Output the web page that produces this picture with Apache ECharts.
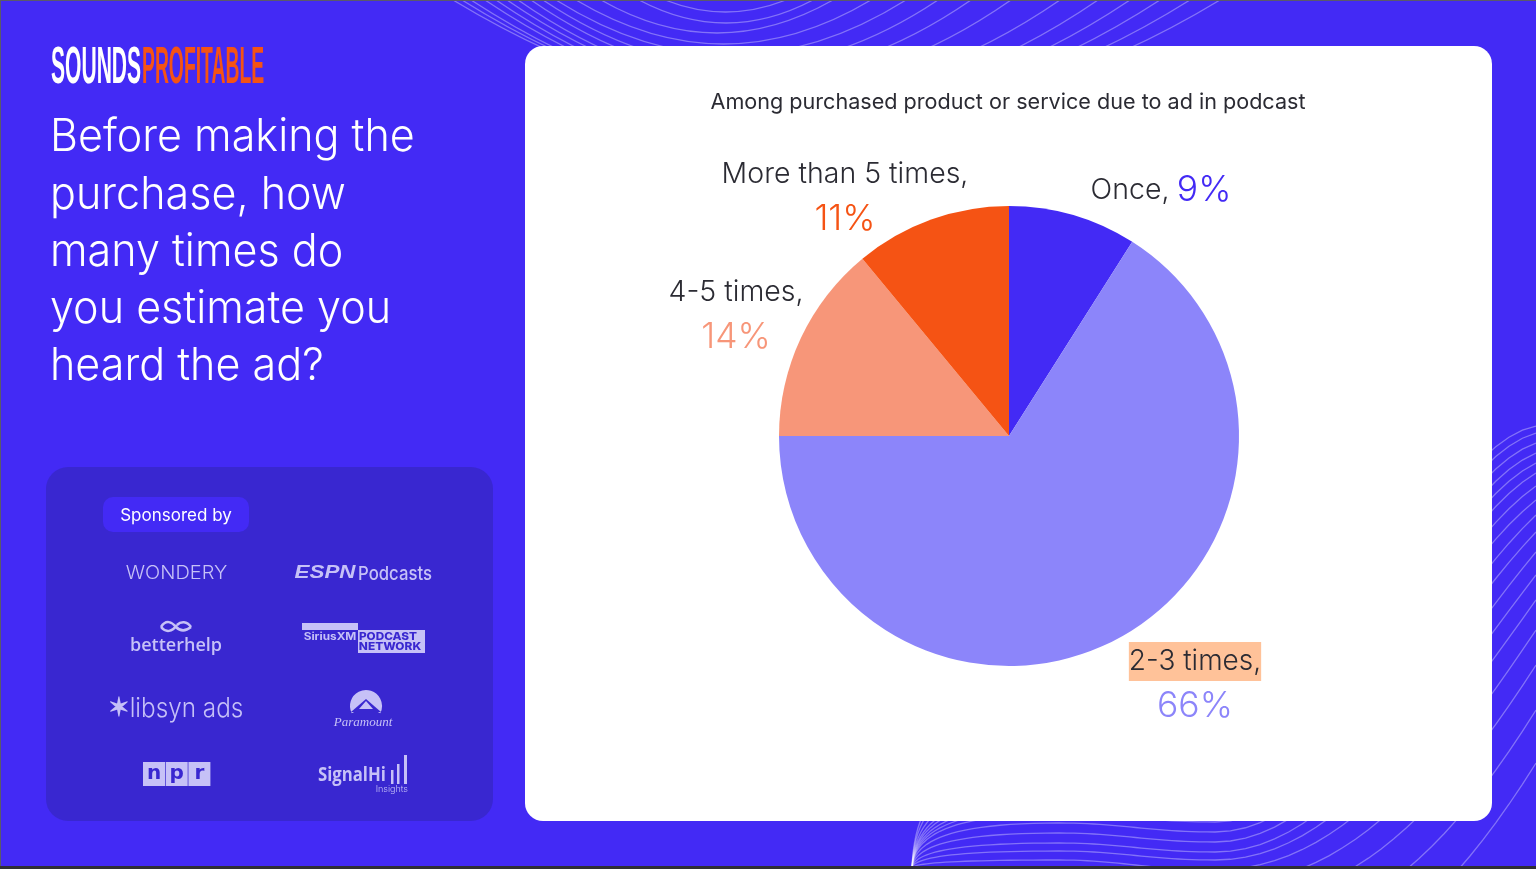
<!DOCTYPE html>
<html><head><meta charset="utf-8">
<style>html,body{margin:0;padding:0;background:#432AF5;overflow:hidden}#c{width:1536px;height:869px}</style>
<script src="https://cdn.jsdelivr.net/npm/echarts@6/dist/echarts.min.js"></script>
</head><body><div id="c"></div>
<script>
const categories = ['Once','2-3 times','4-5 times','More than 5 times'];
const values = [9,66,14,11];
const sliceColors = ['#432AF5','#8C85FA','#F79679','#F55314'];
const chartTitle = 'Among purchased product or service due to ad in podcast';
const headline = ['Before making the','purchase, how','many times do','you estimate you','heard the ad?'];

const FONT = 'Inter, "Noto Sans", sans-serif';
const LOGO = '#C6C1F7';
const BG = '#432AF5', PANEL = '#3927D0';
const chart = echarts.init(document.getElementById('c'), null, {renderer:'canvas'});

const g = [];
const deco = 'rgba(255,255,255,0.34)';
function curve(x1,y1,a,b,c,d,x2,y2,color,lw){
  const shape={x1,y1,x2,y2,cpx1:a,cpy1:b};
  if(c!==null){shape.cpx2=c;shape.cpy2=d;}
  g.push({type:'bezierCurve',silent:true,shape,style:{fill:null,stroke:color||deco,lineWidth:lw||1.3}});
}
// sampled decorative wave, drawn as one polyline
function wave(segs){
  const pts=[];
  segs.forEach(s=>{ for(let k=0;k<=24;k++){ const t=k/24,u=1-t;
    pts.push([u*u*u*s[0]+3*u*u*t*s[2]+3*u*t*t*s[4]+t*t*t*s[6], u*u*u*s[1]+3*u*u*t*s[3]+3*u*t*t*s[5]+t*t*t*s[7]]); } });
  g.push({type:'polyline',silent:true,shape:{points:pts},style:{fill:null,stroke:deco,lineWidth:1.3}});
}
// top decoration
[[665,786,12],[639,813,23],[601,833,33],[576,871,44],[556,906,55],[543,938,66],[531,971,76],[518,1011,86],[507,1060,95],[496,1098,103],[485,1130,108],[471,1160,112],[462,1190,114],[453,1220,116]]
 .forEach(c=>curve(c[0],0,(c[0]+c[1])/2,2*c[2],null,null,c[1],0));
// right + bottom decoration
const ye=[426,433,443,453,463,473,486,500,515,532,552,575,600,630,665,710,763];
const sl=[.2,.28,.35,.42,.5,.6,.7,.8,.95,1.05,1.2,1.3,1.4,1.5,1.55,1.6,1.6];
const yd=[760,775,790,800,806,812,817,822,832,842,852,860,870,885,905,935,980];
ye.forEach((e,i)=>{
  const d=yd[i], p=d-(i<8?8:i<12?9:10), b=110;
  wave([[912,868,914,868-(868-p)*.6,950,p,1059,p],[1059,p,1120,p,1150,d,1215,d],[1215,d,1340,d,1536-b,e+b*sl[i],1536,e]]);
});
function rr(x,y,w,h,r,fill){ g.push({type:'rect',silent:true,shape:{x,y,width:w,height:h,r},style:{fill}}); }
function tx(x,y,text,size,fill,o){ o=o||{};
  g.push({type:'text',silent:true,x,y,scaleX:o.sx||1,scaleY:o.sy||1,style:{text,fill,fontSize:size,fontFamily:o.ff||FONT,fontWeight:o.w||400,fontStyle:o.st||'normal',
    align:o.a||'center',verticalAlign:o.v||'middle'}});
}
// card, panel
rr(525,46,967,775,18,'#fff');
rr(46,467,447,354,22,PANEL);
rr(103,497,146,35,10,BG);
// frame
rr(0,0,1536,1,0,'#5a5a6a'); rr(0,0,1,869,0,'#5a5a6a'); rr(0,866,1536,3,0,'#2f2f36');
// logo
tx(51,69,'SOUNDS',52,'#fff',{a:'left',sx:.405,w:700,ff:'"Liberation Sans"'});
tx(142,69,'PROFITABLE',52,'#F55314',{a:'left',sx:.372,w:700,ff:'"Liberation Sans"'});
// headline
headline.forEach((t,i)=>tx(50,138+i*57.2,t,44.5,'#fff',{a:'left',w:300,sx:.968}));
tx(176,515.5,'Sponsored by',17,'#fff',{w:400});
// sponsor logos
tx(176.5,574,'WONDERY',18,LOGO,{sx:1.11,w:300});
tx(325,573,'ESPN',19,LOGO,{w:900,st:'italic',sx:1.18,ff:'"Liberation Sans"'});
tx(395,574,'Podcasts',19,LOGO,{w:500,sx:.88});
tx(176,646,'betterhelp',18,LOGO,{w:600,ff:'"Open Sans"'});
curve(161,627,166,619,172,622,176,627,LOGO,2.5);
curve(176,627,181,632,186,631,191,627,LOGO,2.5);
curve(161,627,166,633,172,632,177,625,LOGO,2.5);
curve(177,625,181,621,187,621,191,627,LOGO,2.5);
rr(302,623,56,7,0,LOGO);
tx(330,636.5,'SiriusXM',10,LOGO,{w:700,sx:1.18});
rr(358,630,67,23,0,LOGO);
tx(388,636.5,'PODCAST',10.5,PANEL,{w:800,sx:1.12});
tx(390,647,'NETWORK',10.5,PANEL,{w:800,sx:1.13});
tx(119,708,'\u2736',26,LOGO,{w:700});
tx(186.5,709,'libsyn ads',27,LOGO,{w:300,sx:.9});
g.push({type:'sector',silent:true,shape:{cx:366,cy:706,r:16,r0:0,startAngle:.85*Math.PI,endAngle:2.15*Math.PI},style:{fill:LOGO}});
g.push({type:'polygon',silent:true,shape:{points:[[351,712],[366,699],[381,712]]},style:{fill:PANEL}});
g.push({type:'polygon',silent:true,shape:{points:[[359,709],[366,701],[373,709]]},style:{fill:LOGO}});
tx(363,723,'Paramount',13,LOGO,{st:'italic',ff:'"Liberation Serif"'});
[0,1,2].forEach(i=>{ rr(143+i*22.7,762,22,24,0,LOGO); tx(154+i*22.7,774,'npr'[i],20,PANEL,{w:800,ff:'"DejaVu Sans"'}); });
tx(318,776,'SignalHi',19,LOGO,{w:700,a:'left',sx:.88,ff:'"Open Sans"'});
[[391,770,2.5,14],[397,764,2.5,20],[404,755,3,29]].forEach(b=>rr(b[0],b[1],b[2],b[3],0,LOGO));
tx(408,789,'Insights',9,LOGO,{w:300,a:'right'});

const labelPos = {
  'Once':[1161,190], '2-3 times':[1195,684], '4-5 times':[736,315], 'More than 5 times':[845,197]
};
const rich = { n:{fontFamily:FONT,fontSize:28.5,fontWeight:300,color:'#2B2B33',lineHeight:45,align:'center'},
  h:{fontFamily:FONT,fontSize:28,fontWeight:300,color:'#2B2B33',lineHeight:45,backgroundColor:'#FFC299',height:39,align:'center'} };
sliceColors.forEach((c,i)=>{ rich['p'+i]={fontFamily:FONT,fontSize:35.5,fontWeight:300,color:c,lineHeight:45,align:'center'}; });
rich.p0.padding=[0,0,0,4];

chart.setOption({
  animation:false,
  backgroundColor:BG,
  title:{text:chartTitle,left:1003,top:86,textAlign:'center',textStyle:{fontFamily:FONT,fontSize:21.6,fontWeight:400,color:'#2B2B33'}},
  graphic:{elements:g},
  series:[{type:'pie',center:[1009,436],radius:[0,230],startAngle:90,silent:true,
    data:categories.map((n,i)=>({name:n,value:values[i],itemStyle:{color:sliceColors[i]}})),
    labelLine:{show:false},
    label:{show:true,position:'outside',rich,
      formatter:p=>{ const i=p.dataIndex, v=values[i]+'%';
        if(i===0) return `{n|${p.name},} {p0|${v}}`;
        if(i===1) return `{h|${p.name},}\n{p1|${v}}`;
        return `{n|${p.name},}\n{p${i}|${v}}`; }},
    labelLayout:p=>{ const c=labelPos[categories[p.dataIndex]]; return {x:c[0],y:c[1],align:'center',verticalAlign:'middle',hideOverlap:false}; }
  }]
});
</script></body></html>
